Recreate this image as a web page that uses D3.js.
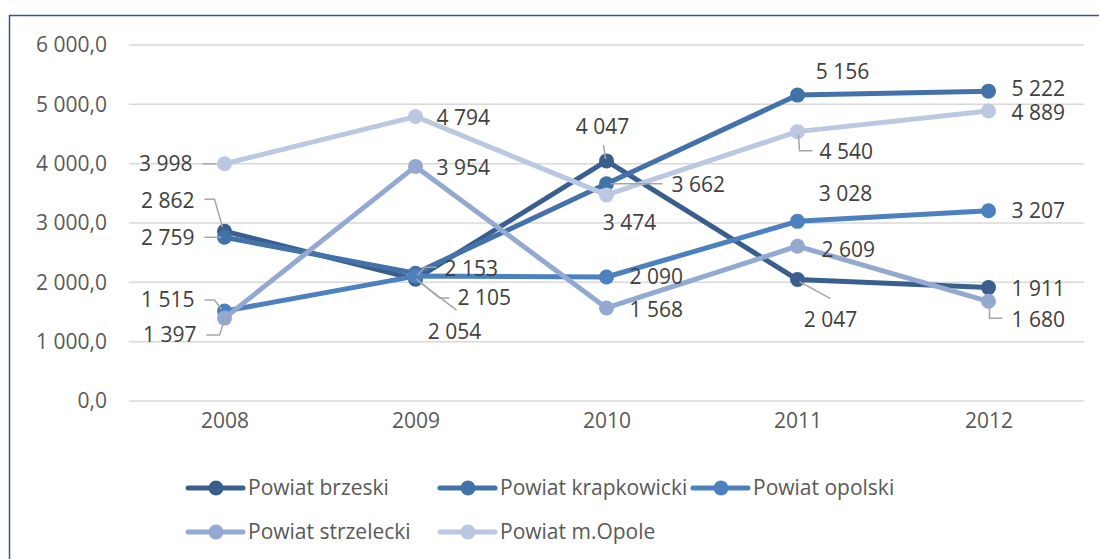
<!DOCTYPE html>
<html>
<head>
<meta charset="utf-8">
<script src="https://d3js.org/d3.v7.min.js"></script>
<style>
  body { margin: 0; background: #fff; }
  svg text { font-family: "Open Sans", sans-serif; }
</style>
</head>
<body>
<svg id="chart" width="1099" height="559"></svg>
<script>
// data
const years = ["2008", "2009", "2010", "2011", "2012"];
const seriesNames = ["Powiat brzeski", "Powiat krapkowicki", "Powiat opolski", "Powiat strzelecki", "Powiat m.Opole"];
const brzeski     = [2862, 2054, 4047, 2047, 1911];
const krapkowicki = [2759, 2153, 3662, 5156, 5222];
const opolski     = [1515, 2105, 2090, 3028, 3207];
const strzelecki  = [1397, 3954, 1568, 2609, 1680];
const mOpole      = [3998, 4794, 3474, 4540, 4889];
const yTicks = [0, 1000, 2000, 3000, 4000, 5000, 6000];

const colors = ["#3A5F8F", "#4371A9", "#4D80BE", "#94A9D1", "#BAC8E1"];

// label placement relative to each point: [dx, dy, anchor, leader path or null]
const labelPlace = [
  [[-30,-31,"end",[[-20,-32],[-10,-32],[-2,-4]]], [39,53,"middle",[[41,31],[3,2]]], [-4,-34,"middle",[[-3,-16],[-1,-2]]], [33,40,"middle",[[33,19],[2,2]]], [23,1,"start",null]],
  [[-30,0,"end",[[-20,0],[-3,0]]], [29,-5,"start",[[21,-6],[9,-6],[2,2]]], [65,1,"start",[[56,0],[4,0]]], [45,-23,"middle",null], [23,-3,"start",null]],
  [[-30,-11,"end",[[-20,-11],[-10,-11],[-3,-2]]], [42,22,"start",[[34,22],[24,22],[1,3]]], [23,0,"start",null], [48,-28,"middle",null], [23,0,"start",null]],
  [[-28,17,"end",[[-18,17],[-5,17],[0,2]]], [21,1,"start",null], [23,2,"start",null], [24,3,"start",null], [23,18,"start",[[14,17],[1,17],[1,3]]]],
  [[-32,0,"end",[[-22,0],[-8,0]]], [21,1,"start",null], [23,28,"middle",null], [22,20,"start",[[15,19],[2,19],[1,3]]], [23,2,"start",null]]
];

const allValues = [brzeski, krapkowicki, opolski, strzelecki, mOpole];
const series = seriesNames.map((name, i) => ({ name: name, values: allValues[i], color: colors[i], labels: labelPlace[i] }));

const svg = d3.select("#chart");

// frame
svg.append("path")
  .attr("d", "M9.5,560 L9.5,15.5 L1110,15.5")
  .attr("fill", "none")
  .attr("stroke", "#2E5A94")
  .attr("stroke-width", 1.5);

const x = d3.scalePoint().domain(years).range([129, 1084]).padding(0.5);
const y = d3.scaleLinear().domain([0, 6000]).range([401, 45]);

const fmt = v => d3.format(",")(v).replace(/,/g, " ");
const fmtTick = v => d3.format(",.1f")(v).replace(/,/g, " ").replace(".", ",");

// gridlines
svg.append("g")
  .selectAll("line")
  .data(yTicks)
  .join("line")
  .attr("x1", 129).attr("x2", 1084)
  .attr("y1", d => y(d)).attr("y2", d => y(d))
  .attr("stroke", "#D9D9D9")
  .attr("stroke-width", 1.5);

// y axis labels
const yAxis = svg.append("g")
  .attr("transform", "translate(107,0)")
  .call(d3.axisLeft(y).tickValues(yTicks).tickFormat(fmtTick).tickSize(0).tickPadding(0));
yAxis.select(".domain").remove();
yAxis.selectAll("text")
  .attr("fill", "#595959")
  .style("font-size", "21px");

// x axis labels
const xAxis = svg.append("g")
  .attr("transform", "translate(0,421)")
  .call(d3.axisBottom(x).tickSize(0).tickPadding(0));
xAxis.select(".domain").remove();
xAxis.selectAll("text")
  .attr("fill", "#595959")
  .attr("dy", "0.32em")
  .style("font-size", "21px");

const line = d3.line().x((d, i) => x(years[i])).y(d => y(d));

// lines and markers
series.forEach(s => {
  const g = svg.append("g");
  g.append("path")
    .datum(s.values)
    .attr("fill", "none")
    .attr("stroke", s.color)
    .attr("stroke-width", 5)
    .attr("stroke-linejoin", "round")
    .attr("d", line);
  g.selectAll("circle")
    .data(s.values)
    .join("circle")
    .attr("cx", (d, i) => x(years[i]))
    .attr("cy", d => y(d))
    .attr("r", 7.5)
    .attr("fill", s.color);
});

// data labels
series.forEach(s => {
  const g = svg.append("g");
  s.values.forEach((v, i) => {
    const px = x(years[i]), py = y(v);
    const p = s.labels[i];
    if (p[3]) {
      g.append("path")
        .attr("d", d3.line()(p[3].map(q => [px + q[0], py + q[1]])))
        .attr("fill", "none")
        .attr("stroke", "#A6A6A6")
        .attr("stroke-width", 1.5);
    }
    g.append("text")
      .attr("x", px + p[0])
      .attr("y", py + p[1])
      .attr("dy", "0.35em")
      .attr("text-anchor", p[2])
      .attr("fill", "#404040")
      .style("font-size", "21px")
      .text(fmt(v));
  });
});

// legend
const legendPos = [[188, 488], [440, 488], [693, 488], [188, 532], [440, 532]];
const legend = svg.append("g");
series.forEach((s, i) => {
  const lx = legendPos[i][0], ly = legendPos[i][1];
  legend.append("line")
    .attr("x1", lx).attr("x2", lx + 55)
    .attr("y1", ly).attr("y2", ly)
    .attr("stroke", s.color)
    .attr("stroke-width", 5)
    .attr("stroke-linecap", "round");
  legend.append("circle")
    .attr("cx", lx + 28).attr("cy", ly)
    .attr("r", 7.5)
    .attr("fill", s.color);
  legend.append("text")
    .attr("x", lx + 60).attr("y", ly)
    .attr("dy", "0.35em")
    .attr("fill", "#595959")
    .style("font-size", "21px")
    .text(s.name);
});
</script>
</body>
</html>
